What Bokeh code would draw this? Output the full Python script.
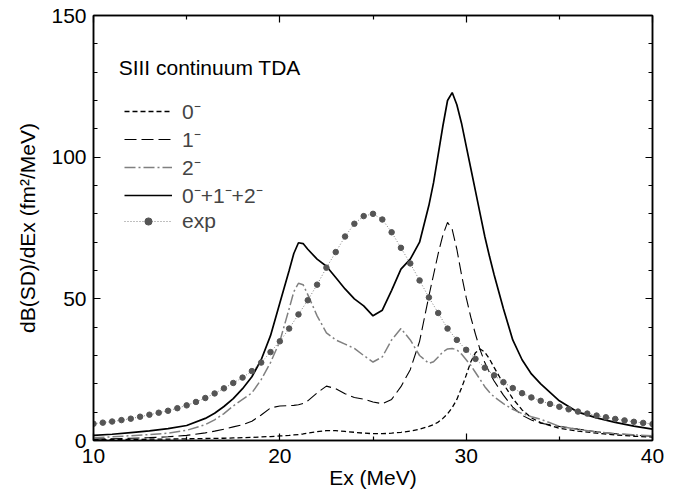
from bokeh.plotting import figure
from bokeh.models import (Range1d, LinearAxis, FixedTicker, Legend, LegendItem, Label,
                          CustomJSTickFormatter)
from bokeh.embed import file_html
from bokeh.resources import INLINE

# ---- data ----
ex = [10, 11, 12, 13, 14, 15, 16,
      16.5, 17, 17.5, 18, 18.5, 19, 19.5, 20, 20.5,
      20.75, 21, 21.25, 21.5,
      22, 22.5, 23, 23.5, 24, 24.5, 25, 25.5, 26, 26.5, 27, 27.5, 28,
      28.25, 28.5, 28.75, 29, 29.25, 29.5, 29.75, 30, 30.25, 30.5, 30.75, 31, 31.25, 31.5,
      32, 32.5, 33, 33.5, 34,
      35, 36, 37, 38, 39, 40]

s0 = [0.3, 0.35, 0.4, 0.45, 0.5, 0.6, 0.7,
      0.75, 0.8, 0.9, 1.0, 1.1, 1.25, 1.4, 1.6, 1.8,
      1.95, 2.1, 2.3, 2.6,
      3.1, 3.5, 3.5, 3.2, 2.9, 2.6, 2.4, 2.4, 2.6, 2.9, 3.3, 4.0, 5.0,
      5.6, 6.5, 7.8, 9.4, 11.6, 14.5, 18.5, 23.0, 27.8, 31.0, 32.3, 31.2, 28.8, 25.8,
      20.0, 14.8, 10.8, 8.0, 6.3,
      4.3, 3.3, 2.6, 2.0, 1.5, 1.2]

s1 = [0.5, 0.6, 0.8, 1.0, 1.3, 1.8, 2.7,
      3.3, 4.0, 4.8, 5.6, 6.8, 9.0, 11.5, 12.2, 12.3,
      12.4, 12.6, 13.1, 14.0,
      16.8, 19.2, 18.3, 16.5, 15.2, 14.6, 13.6, 13.0, 14.5, 19.0, 25.0, 35.0, 51.0,
      58.5, 66.0, 72.5, 77.0, 74.5, 67.5, 58.5, 50.5, 43.5, 37.5, 32.0, 27.5, 24.0, 21.0,
      16.0, 11.8, 8.9, 7.2, 6.1,
      5.0, 4.0, 3.1, 2.4, 1.9, 1.5]

s2 = [1.0, 1.3, 1.7, 2.1, 2.6, 3.6, 5.6,
      7.3, 9.5, 12.2, 14.5, 16.8, 21.5, 27.5, 35.0, 46.5,
      52.5, 55.5, 55.0, 51.5,
      44.0, 38.0, 35.5, 34.0, 32.5, 30.0, 27.7, 29.5, 35.5, 39.5, 35.5, 30.0, 27.2,
      27.8, 29.5, 31.3, 32.3, 32.5, 32.0, 30.5, 28.5, 26.5, 24.0, 21.5, 19.0, 17.0, 15.4,
      13.0, 11.0, 9.5, 8.4, 7.5,
      5.0, 3.9, 3.0, 2.4, 2.0, 1.7]

total = [1.8, 2.2, 2.8, 3.4, 4.2, 5.3, 7.8,
         9.6, 12.0, 14.8, 18.3, 22.5, 28.5, 37.0, 48.5, 60.0,
         66.0, 69.8, 69.5, 67.5,
         64.0, 61.5, 57.5, 53.5, 50.0, 47.5, 44.0, 46.0, 53.0, 60.5, 64.0, 70.0, 83.0,
         91.0, 101.0, 111.0, 120.0, 122.8, 118.5, 112.0, 104.0, 96.0, 88.0, 80.0, 72.0, 65.0, 58.5,
         46.5, 35.5, 28.5, 23.5, 20.0,
         14.0, 10.0, 8.0, 6.4, 5.1, 4.0]

ex_exp = [10, 10.5, 11, 11.5, 12, 12.5, 13, 13.5, 14, 14.5, 15, 15.5, 16, 16.5, 17, 17.5,
          18, 18.5, 19, 19.5, 20, 20.5, 21, 21.5, 22, 22.5, 23, 23.5, 24, 24.5, 25, 25.5,
          26, 26.5, 27, 27.5, 28, 28.5, 29, 29.5, 30, 30.5, 31, 31.5, 32, 32.5, 33, 33.5,
          34, 34.5, 35, 35.5, 36, 36.5, 37, 37.5, 38, 38.5, 39, 39.5, 40]
exp_vals = [5.9, 6.3, 6.7, 7.2, 7.7, 8.4, 9.1, 9.8, 10.5, 11.4, 12.4, 13.6, 15.0, 16.6, 18.4, 20.3,
            22.2, 24.5, 27.5, 31.2, 35.0, 39.5, 44.5, 49.5, 55.0, 61.0, 66.5, 72.0, 76.5, 79.2, 80.0, 78.0,
            73.5, 68.0, 62.5, 56.5, 50.5, 45.0, 39.5, 35.5, 32.0, 28.8, 25.7, 23.0, 20.6, 18.5, 16.7, 15.2,
            14.0, 12.9, 11.9, 11.0, 10.2, 9.5, 8.8, 8.2, 7.6, 7.1, 6.6, 6.2, 5.8]

legend_labels = ["0\u207b", "1\u207b", "2\u207b", "0\u207b+1\u207b+2\u207b", "exp"]
title_text = "SIII continuum TDA"
x_ticks = [10, 20, 30, 40]
x_minor = [15, 25, 35]
y_ticks = [0, 50, 100, 150]
y_minor = [10, 20, 30, 40, 60, 70, 80, 90, 110, 120, 130, 140]

FONT = "Liberation Sans"
FS = "21px"

p = figure(width=679, height=497, output_backend="svg", toolbar_location=None,
           x_range=Range1d(10, 40), y_range=Range1d(0, 150),
           min_border_left=93, min_border_right=27, min_border_top=15, min_border_bottom=57,
           x_axis_label="Ex (MeV)", y_axis_label="dB(SD)/dEx (fm\u00b2/MeV)")
p.xgrid.visible = False
p.ygrid.visible = False
p.outline_line_color = "black"
p.outline_line_width = 1.5
p.background_fill_color = "white"
p.border_fill_color = "white"

p.xaxis.ticker = FixedTicker(ticks=x_ticks, minor_ticks=x_minor)
p.yaxis.ticker = FixedTicker(ticks=y_ticks, minor_ticks=y_minor)
for ax in (p.xaxis[0], p.yaxis[0]):
    ax.major_tick_in = 7
    ax.major_tick_out = 0
    ax.minor_tick_in = 4
    ax.minor_tick_out = 0
    ax.axis_line_width = 1.5
    ax.major_tick_line_width = 1.2
    ax.minor_tick_line_width = 1.2
    ax.major_label_text_font = FONT
    ax.major_label_text_font_size = FS
    ax.major_label_text_color = "black"
    ax.axis_label_text_font = FONT
    ax.axis_label_text_font_size = FS
    ax.axis_label_text_font_style = "normal"
    ax.axis_label_text_color = "black"
p.xaxis.major_label_standoff = 8
p.xaxis.axis_label_standoff = 0
p.yaxis.major_label_standoff = 7
p.yaxis.axis_label_standoff = 9

blank = CustomJSTickFormatter(code="return ''")
for loc, tk in (("right", FixedTicker(ticks=y_ticks, minor_ticks=y_minor)),
                ("above", FixedTicker(ticks=x_ticks, minor_ticks=x_minor))):
    ax = LinearAxis(ticker=tk, formatter=blank, major_tick_in=7, major_tick_out=0,
                    minor_tick_in=4, minor_tick_out=0, major_label_standoff=0,
                    axis_line_width=1.5, major_tick_line_width=1.2, minor_tick_line_width=1.2)
    p.add_layout(ax, loc)

r0 = p.line(ex, s0, line_color="black", line_width=1.3, line_dash="5 3")
r1 = p.line(ex, s1, line_color="black", line_width=1.1, line_dash="12 5")
r2 = p.line(ex, s2, line_color="#808080", line_width=1.5, line_dash="11 3 2 3")
rt = p.line(ex, total, line_color="black", line_width=1.7)
re_line = p.line(ex_exp, exp_vals, line_color="#808080", line_width=1.0, line_dash="1 2")
re_pts = p.scatter(ex_exp, exp_vals, marker="circle", size=5.5, fill_color="#555555", line_color="#555555")

legend = Legend(items=[
    LegendItem(label=legend_labels[0], renderers=[r0]),
    LegendItem(label=legend_labels[1], renderers=[r1]),
    LegendItem(label=legend_labels[2], renderers=[r2]),
    LegendItem(label=legend_labels[3], renderers=[rt]),
    LegendItem(label=legend_labels[4], renderers=[re_line, re_pts]),
], location=(31, 207), background_fill_alpha=0, border_line_color=None,
   label_text_font=FONT, label_text_font_size=FS, label_text_line_height=1.0,
   glyph_width=48, glyph_height=18, label_height=18, label_standoff=10,
   spacing=0, padding=0, margin=0)
p.add_layout(legend)

p.add_layout(Label(x=11.35, y=131.7, text=title_text, text_font=FONT, text_font_size=FS,
                   text_baseline="middle", text_align="left", text_color="black"))

open("out.html", "w").write(file_html(p, INLINE))
